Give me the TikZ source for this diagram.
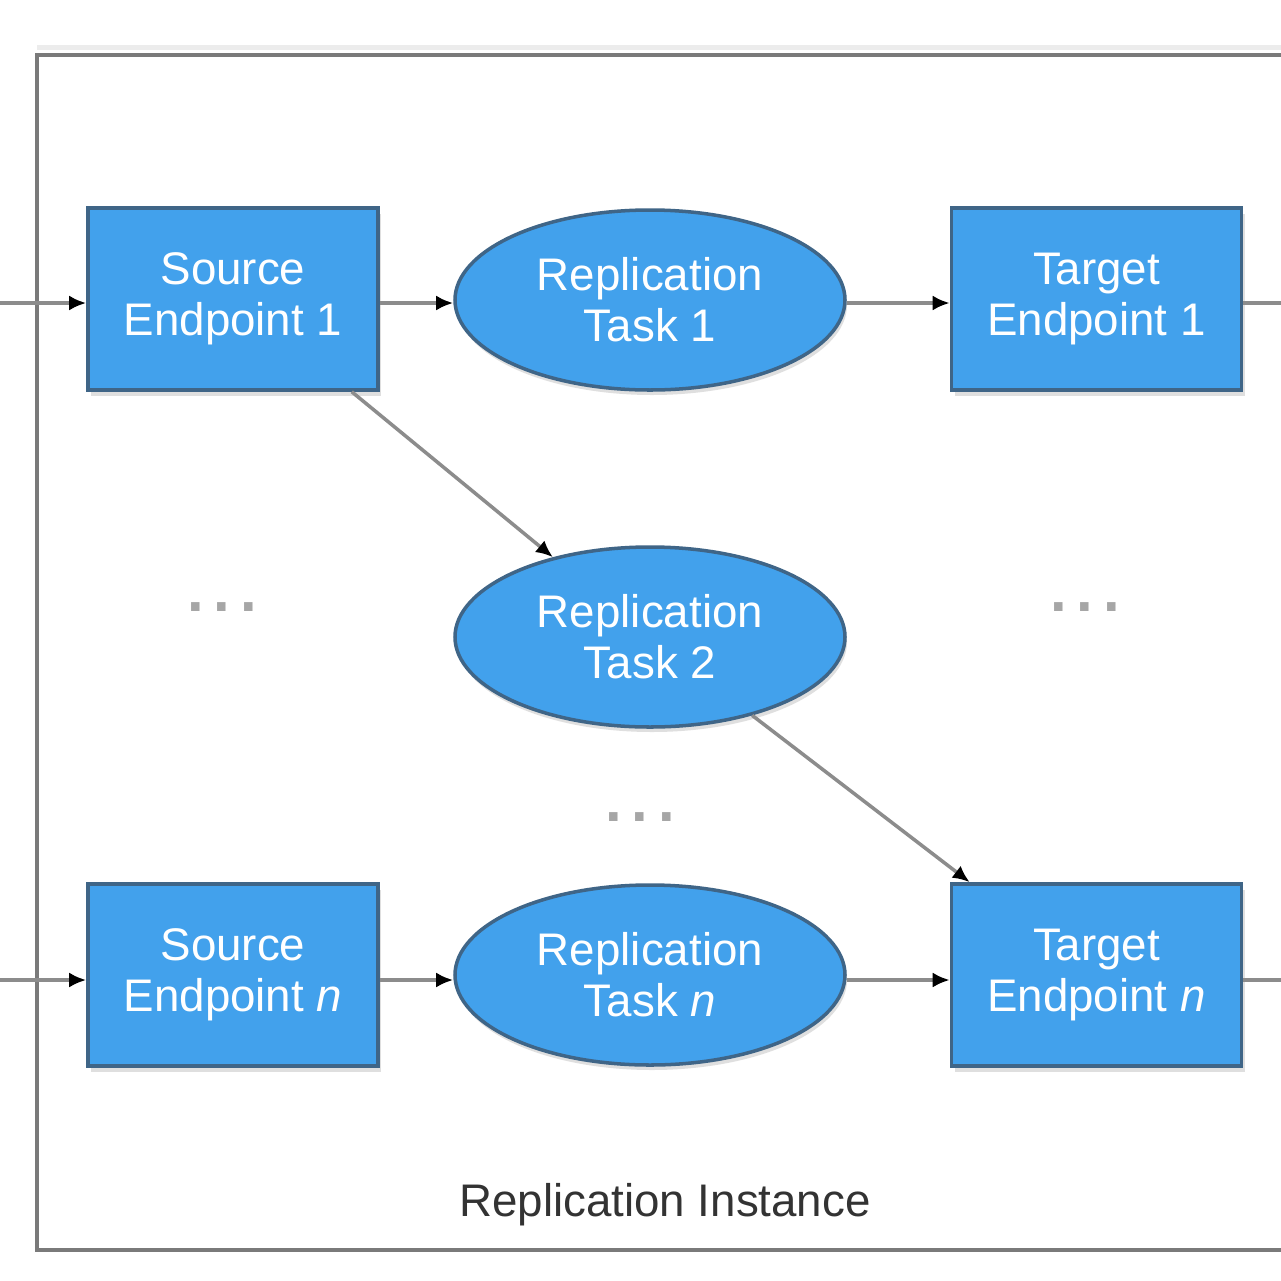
\documentclass[tikz,border=0pt]{standalone}
\usepackage{fontspec}
\setmainfont{Liberation Sans}
\usetikzlibrary{arrows.meta,shapes,shadows}
\definecolor{boxblue}{HTML}{42A1EC}
\definecolor{boxedge}{HTML}{3F6587}
\definecolor{linegray}{HTML}{8C8C8C}
\definecolor{framegray}{HTML}{7A7A7A}
\tikzstyle{endpoint} = [rectangle, draw=boxedge, line width=2pt, fill=boxblue, text=white,
      align=center, minimum width=5.8cm, minimum height=3.64cm, inner sep=0pt,
      drop shadow={shadow xshift=0.06cm, shadow yshift=-0.12cm, opacity=0.25}]
\tikzstyle{task} = [ellipse, draw=boxedge, line width=2pt, fill=boxblue, text=white,
      align=center, minimum width=7.8cm, minimum height=3.6cm, inner sep=0pt,
      drop shadow={shadow xshift=0.04cm, shadow yshift=-0.1cm, opacity=0.25}]
\tikzstyle{line} = [draw, linegray, line width=2pt, -{Latex[black,length=0.34cm,width=0.3cm]}]
\tikzstyle{wire} = [draw, linegray, line width=2pt]
\tikzstyle{dots} = [text=gray!70, font=\fontsize{34}{36}\selectfont\bfseries]

\begin{document}
\begin{tikzpicture}[font=\fontsize{26}{29}\selectfont]
	  \clip (0,0) rectangle (25.62,-25.62);
	  \fill[white] (0,0) rectangle (25.62,-25.62);
	  % Instance frame
	  \fill[gray!15] (0.74,-0.9) rectangle (26.5,-1.0);
	  \draw[framegray, line width=2pt] (26.5,-1.1) -| (0.74,-25.0) -- (26.5,-25.0);
	  \node[text=black!80] (inst) at (13.3,-24.1) {Replication Instance};
	  % Nodes
	  \node [endpoint] (src1) at (4.66,-5.98) {Source\\Endpoint 1};
	  \node [task] (task1) at (13.0,-6.0) {Replication\\Task 1};
	  \node [endpoint] (tgt1) at (21.93,-5.98) {Target\\Endpoint 1};
	  \node [task] (task2) at (13.0,-12.74) {Replication\\Task 2};
	  \node [endpoint] (srcn) at (4.66,-19.5) {Source\\Endpoint \textit{n}};
	  \node [task] (taskn) at (13.0,-19.5) {Replication\\Task \textit{n}};
	  \node [endpoint] (tgtn) at (21.93,-19.5) {Target\\Endpoint \textit{n}};
	  \node [dots] (dotsl) at (4.44,-12.14) {.\,.\,.};
	  \node [dots] (dotsr) at (21.7,-12.14) {.\,.\,.};
	  \node [dots] (dotsm) at (12.8,-16.34) {.\,.\,.};
	  \coordinate (in1) at (0,-6.06);
	  \coordinate (inn) at (0,-19.6);
	  \coordinate (out1) at (26.5,-6.06);
	  \coordinate (outn) at (26.5,-19.6);
	  % Rows
	  \path [line] (in1) -- (src1.west |- in1);
	  \path [line] (src1.east |- in1) -- (task1.west |- in1);
	  \path [line] (task1.east |- in1) -- (tgt1.west |- in1);
	  \path [wire] (tgt1.east |- in1) -- (out1);
	  \path [line] (inn) -- (srcn.west |- inn);
	  \path [line] (srcn.east |- inn) -- (taskn.west |- inn);
	  \path [line] (taskn.east |- inn) -- (tgtn.west |- inn);
	  \path [wire] (tgtn.east |- inn) -- (outn);
	  % Cross links
	  \path [line] ([xshift=-0.56cm]src1.south east) -- (task2);
	  \path [line] (task2) -- ([xshift=0.4cm]tgtn.north west);
\end{tikzpicture}
\end{document}
